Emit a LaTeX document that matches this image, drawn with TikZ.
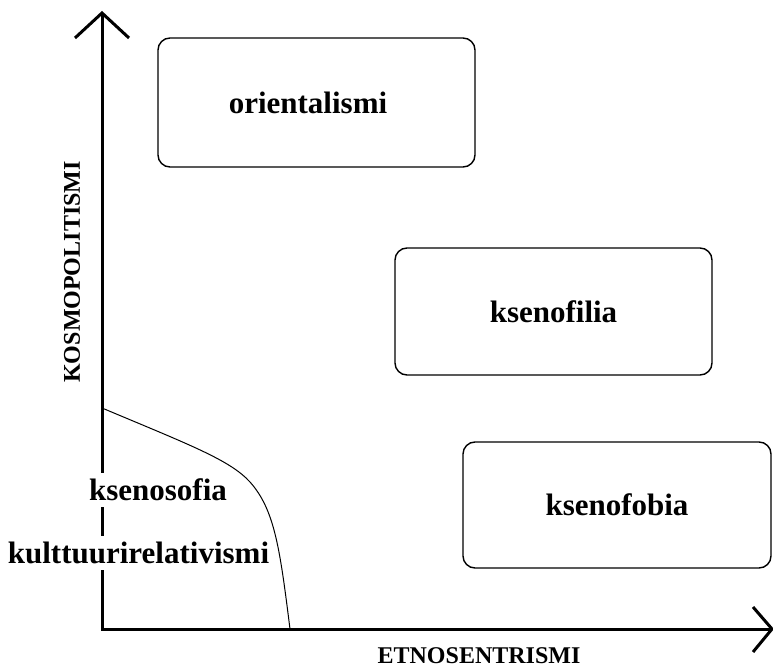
\documentclass[tikz,border=0pt]{standalone}
\usepackage{fontspec}
\setmainfont{Liberation Serif}
\begin{document}
\begin{tikzpicture}[x=1pt,y=-1pt,
  box/.style={draw, line width=1.4pt, rounded corners=12pt, inner sep=0pt,
    font=\fontsize{31}{36}\selectfont\bfseries},
  sidelbl/.style={fill=white, inner sep=0pt, minimum height=34pt,
    font=\fontsize{31}{36}\selectfont\bfseries},
  axlbl/.style={inner sep=0pt, font=\fontsize{24}{28}\selectfont\bfseries},
  axisline/.style={line width=3pt},
  curveline/.style={line width=1pt}]
\useasboundingbox (0,0) rectangle (773,668);
% axes
\coordinate (O) at (102,629);
\coordinate (Ytip) at (102,13);
\coordinate (Xtip) at (772,629);
\coordinate (Ya) at (75,38);
\coordinate (Yb) at (129,38);
\coordinate (Xa) at (753,607);
\coordinate (Xb) at (753,652);
\draw[axisline] (Ytip) -- (O) -- (Xtip);
\draw[axisline] (Ya) -- (Ytip) -- (Yb);
\draw[axisline] (Xa) -- (Xtip) -- (Xb);
% curve
\coordinate (cs) at (102,408);
\coordinate (cm) at (250,482);
\coordinate (ce) at (290,629);
\draw[curveline] (cs) .. controls (190,445) and (230,460) .. (cm)
  .. controls (275,510) and (280,550) .. (ce);
% boxes
\node[box, minimum width=317pt, minimum height=129pt] (ori) at (316.5,102.5) {orientalismi\hspace*{17pt}};
\node[box, minimum width=317pt, minimum height=127pt] (fil) at (553.5,311.5) {ksenofilia};
\node[box, minimum width=308pt, minimum height=126pt] (fob) at (617,505) {ksenofobia};
% side labels
\node[sidelbl] (sof) at (158,490) {ksenosofia};
\node[sidelbl] (rel) at (138.5,553) {kulttuurirelativismi};
% axis labels
\node[axlbl, anchor=base] (etno) at (479,663) {ETNOSENTRISMI};
\node[axlbl, rotate=90] (kosmo) at (72,272) {KOSMOPOLITISMI};
\end{tikzpicture}
\end{document}
